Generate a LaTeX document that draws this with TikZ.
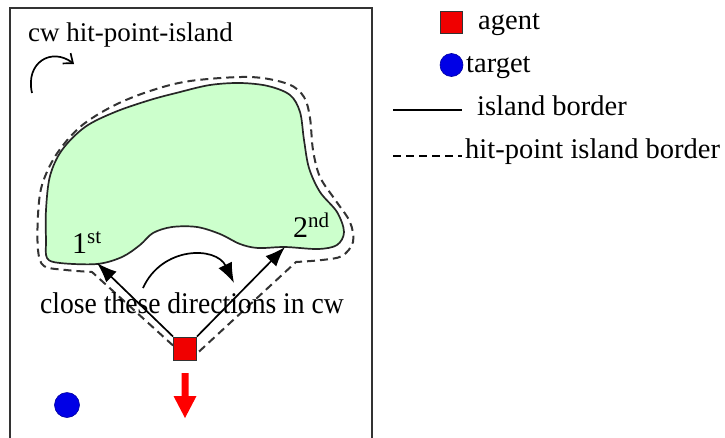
\documentclass[tikz,border=0pt]{standalone}
\usepackage{fontspec}
\setmainfont{Liberation Serif}
\newfontfamily\narrowserif[FakeStretch=0.92]{Liberation Serif}
\usetikzlibrary{arrows.meta}

\definecolor{islandgreen}{RGB}{204,255,204}
\definecolor{agentred}{RGB}{240,0,0}
\definecolor{targetblue}{RGB}{0,0,230}

\tikzset{
  lbl/.style={inner sep=0pt, anchor=base west, font=\fontsize{27}{30}\selectfont},
  tall/.style={inner sep=0pt, anchor=base west, font=\narrowserif\fontsize{30}{32}\selectfont},
  leglbl/.style={inner sep=0pt, anchor=base west, font=\fontsize{28.5}{31}\selectfont},
  ordlbl/.style={inner sep=0pt, anchor=base west, font=\fontsize{30}{32}\selectfont},
  islandline/.style={draw=black!85, line width=1.7pt},
  hitline/.style={draw=black!80, line width=2pt, dash pattern=on 8pt off 5pt},
  dirarrow/.style={draw=black, line width=1.7pt, -{Latex[length=20pt,width=15pt]}},
  agentbox/.style={draw=black!80, fill=agentred, line width=0.9pt, minimum width=23pt, minimum height=23pt, inner sep=0pt},
  targetdot/.style={circle, draw=targetblue!70!black, fill=targetblue, line width=0.6pt, minimum size=23pt, inner sep=0pt},
}

\begin{document}
\begin{tikzpicture}[x=1pt,y=-1pt]
  \useasboundingbox (0,0) rectangle (725,437);

  % frame of the scene (open at the bottom edge)
  \begin{scope}
    \clip (0,0) rectangle (725,437);
    \draw[black!80, line width=1.3pt] (10,445) -- (10,8) -- (372,8) -- (372,445);
  \end{scope}

  % the island
  \path[islandline, fill=islandgreen] plot[smooth cycle, tension=0.55] coordinates {
    (47,258) (60,263) (97,264) (122,257) (140,245) (153,233) (172,227)
    (197,227) (220,234) (240,244) (258,248) (285,247) (318,249) (337,245)
    (344,232) (337,212) (320,192) (309,168) (304,140) (300,112) (290,95)
    (268,86) (240,83) (210,85) (180,92) (150,100) (115,112) (85,127)
    (62,150) (50,176) (46,210) (46,240)};

  % agent and target
  \node[agentbox] (agent) at (185,348.5) {};
  \node[targetdot, minimum size=25pt] (target) at (67,405) {};

  % hit points on the island
  \coordinate (firsthit) at (97,263);
  \coordinate (secondhit) at (285,247);

  % hit-point island border
  \draw[hitline] (agent.west) ++(0,-3) coordinate (hl) -- plot[smooth, tension=0.55] coordinates {
    (92,272) (66,270) (44,266) (38,250) (38,215) (42,185) (56,155) (80,127)
    (113,106) (150,91) (190,81) (250,77) (288,84) (304,97) (310,118)
    (313,150) (320,177) (336,201) (350,222) (353,242) (342,256) (322,260) (296,262)}
    -- ([yshift=-5pt]agent.east);

  % texts
  \node[lbl] (title) at (28,41) {cw hit-point-island};
  \node[tall] (closetxt) at (40,313) {close these directions in cw};
  \node[ordlbl] (first) at (72,253) {1\textsuperscript{st}};
  \node[ordlbl] (second) at (293,237) {2\textsuperscript{nd}};

  % directions from the agent to the hit points
  \draw[dirarrow] (agent.north west) -- (firsthit);
  \draw[dirarrow] (agent.north east) -- (secondhit);

  % rotation arrows
  \coordinate (cwstart) at (32,93);
  \coordinate (cwend) at (74,64);
  \draw[black, line width=1.7pt, -{Straight Barb[length=8pt,width=13pt]}]
    (cwstart) .. controls (25,62) and (52,47) .. (cwend);
  \coordinate (closestart) at (143,288);
  \coordinate (closeend) at (234,283);
  \draw[dirarrow] (closestart) .. controls (162,246) and (216,246) .. (closeend);

  % heading of the agent
  \fill[red] (181.5,373) -- (188.5,373) -- (188.5,396) -- (196.5,396)
    -- (185,418) -- (173.5,396) -- (181.5,396) -- cycle;

  % legend
  \node[agentbox, minimum width=22pt, minimum height=22pt] (legagent) at (451,22) {};
  \node[leglbl] (legagenttxt) at (478,29) {agent};
  \node[targetdot] (legtarget) at (451.5,65) {};
  \node[leglbl] (legtargettxt) at (466,72) {target};
  \coordinate (solidA) at (393,110);
  \coordinate (solidB) at (462,110);
  \draw[black, line width=1.6pt] (solidA) -- (solidB);
  \node[leglbl] (legisland) at (477,115) {island border};
  \coordinate (dashA) at (393,156);
  \coordinate (dashB) at (462,156);
  \draw[black, line width=1.8pt, dash pattern=on 8pt off 5pt] (dashA) -- (dashB);
  \node[leglbl] (leghit) at (465,158.5) {hit-point island border};
\end{tikzpicture}
\end{document}
